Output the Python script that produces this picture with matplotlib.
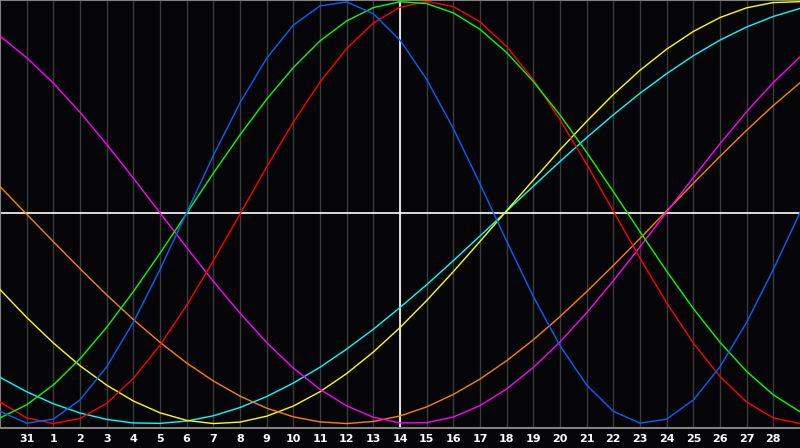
import numpy as np
import matplotlib
matplotlib.use('Agg')
import matplotlib.pyplot as plt

# day slots across the chart (first and last are unlabelled)
days = np.arange(31)
tick_pos = list(range(1, 30))
tick_labels = ['31'] + [str(d) for d in range(1, 29)]
today = 15

# curve values, one per day slot
blue = [-0.942, -0.998, -0.979, -0.888, -0.731, -0.520, -0.270, 0.000, 0.270, 0.520,
        0.731, 0.888, 0.979, 0.998, 0.942, 0.817, 0.631, 0.398, 0.136, -0.136,
        -0.398, -0.631, -0.817, -0.942, -0.998, -0.979, -0.888, -0.731, -0.520, -0.270,
        0.000]
green = [-0.973, -0.911, -0.817, -0.693, -0.544, -0.375, -0.193, -0.004, 0.186, 0.368,
         0.537, 0.687, 0.813, 0.908, 0.971, 0.999, 0.990, 0.946, 0.868, 0.758,
         0.621, 0.462, 0.285, 0.099, -0.091, -0.278, -0.455, -0.615, -0.753, -0.864,
         -0.944]
red = [-0.898, -0.973, -1.000, -0.976, -0.904, -0.786, -0.629, -0.440, -0.229, -0.007,
       0.216, 0.428, 0.618, 0.777, 0.898, 0.973, 1.000, 0.976, 0.904, 0.786,
       0.629, 0.440, 0.229, 0.007, -0.216, -0.428, -0.618, -0.777, -0.898, -0.973,
       -1.000]
magenta = [0.836, 0.734, 0.613, 0.475, 0.323, 0.163, -0.002, -0.166, -0.326, -0.477,
           -0.616, -0.737, -0.838, -0.916, -0.970, -0.997, -0.996, -0.969, -0.915, -0.836,
           -0.734, -0.613, -0.475, -0.323, -0.163, 0.002, 0.166, 0.326, 0.478, 0.616,
           0.737]
orange = [0.123, -0.008, -0.138, -0.266, -0.390, -0.507, -0.615, -0.713, -0.798, -0.870,
          -0.927, -0.968, -0.992, -1.000, -0.990, -0.964, -0.921, -0.862, -0.789, -0.702,
          -0.603, -0.493, -0.375, -0.251, -0.123, 0.008, 0.138, 0.266, 0.390, 0.507,
          0.615]
yellow = [-0.365, -0.497, -0.618, -0.726, -0.818, -0.893, -0.949, -0.985, -1.000, -0.993,
          -0.965, -0.917, -0.849, -0.763, -0.661, -0.545, -0.417, -0.280, -0.137, 0.009,
          0.154, 0.297, 0.432, 0.559, 0.674, 0.774, 0.858, 0.924, 0.970, 0.995,
          0.999]
cyan = [-0.781, -0.849, -0.906, -0.950, -0.980, -0.997, -0.999, -0.988, -0.963, -0.924,
        -0.872, -0.808, -0.733, -0.647, -0.553, -0.450, -0.342, -0.228, -0.111, 0.007,
        0.125, 0.242, 0.355, 0.463, 0.565, 0.658, 0.743, 0.817, 0.879, 0.929,
        0.967]

series = [
    (cyan, '#00ffff'),
    (yellow, '#ffff00'),
    (orange, '#ff8000'),
    (magenta, '#ff00ff'),
    (red, '#ff0000'),
    (green, '#00ff00'),
    (blue, '#0064ff'),
]

bg = '#050508'
fig = plt.figure(figsize=(8, 4.48), dpi=100, facecolor=bg)
ax = fig.add_axes([0, 20 / 448, 1, 428 / 448])
ax.set_facecolor(bg)

for k in tick_pos:
    ax.axvline(k, color='#3c3c3c', lw=1, zorder=1)
ax.axhline(0, color='white', lw=1.2, zorder=2)
ax.axvline(today, color='white', lw=1.2, zorder=2)

for vals, col in series:
    ax.plot(days, vals, color=col, lw=1.0, zorder=3)

ax.set_xlim(0, 30)
ax.set_ylim(-1.021, 1.007)
ax.set_yticks([])
ax.set_xticks(tick_pos)
ax.set_xticklabels(tick_labels, color='white', fontsize=8, fontweight='bold')
ax.tick_params(axis='x', length=0, pad=4)

for side in ['left', 'top', 'bottom']:
    ax.spines[side].set_color('#808080')
    ax.spines[side].set_linewidth(1.5)
ax.spines['right'].set_visible(False)

fig.savefig('out.png', dpi=100, facecolor=bg)
